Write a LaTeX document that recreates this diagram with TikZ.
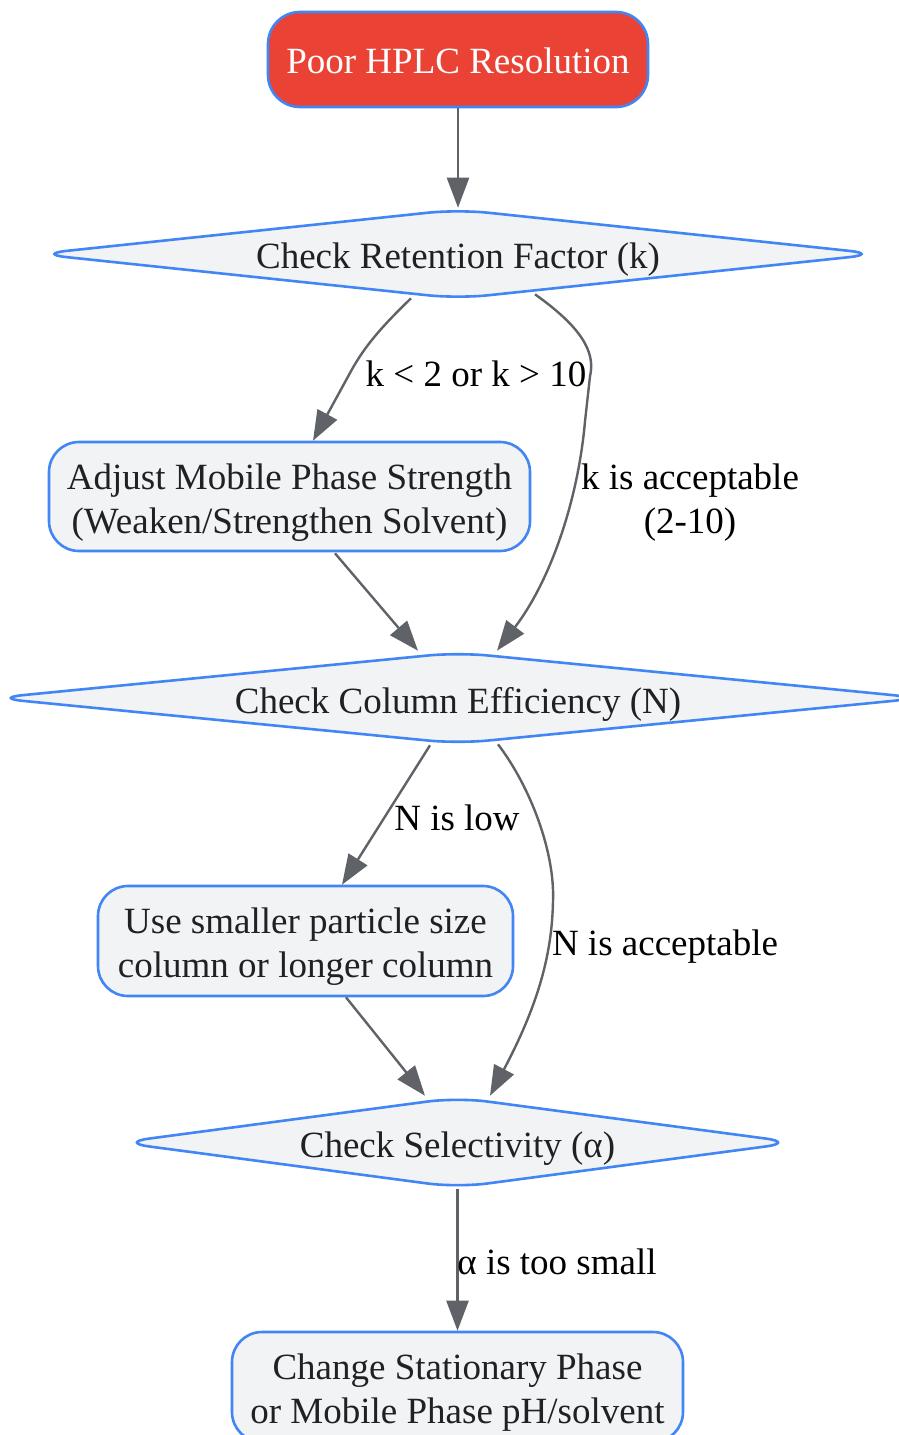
\documentclass[tikz,border=0pt]{standalone}
\usepackage{fontspec}
\setmainfont{Liberation Serif}
\usetikzlibrary{shapes.geometric,arrows.meta,calc}
\definecolor{redfill}{HTML}{EA4335}
\definecolor{blueline}{HTML}{4285F4}
\definecolor{lightfill}{HTML}{F1F3F4}
\definecolor{edgegray}{HTML}{5F6368}
\definecolor{txt}{HTML}{202124}
\newcommand{\lowr}[1]{\raisebox{-6pt}[\height][\depth]{#1}}
\newcommand{\twol}[2]{\lowr{\begin{tabular}{@{}c@{}}#1\\#2\end{tabular}}}
\begin{document}
\begin{tikzpicture}[x=1pt,y=-1pt,
  font=\fontsize{37}{44}\selectfont,
  startbox/.style={rectangle, rounded corners=32pt, draw=blueline, line width=2.6pt, fill=redfill, text=white, inner sep=0pt, align=center},
  procbox/.style={rectangle, rounded corners=30pt, draw=blueline, line width=2.6pt, fill=lightfill, text=txt, inner sep=0pt, align=center},
  decision/.style={diamond, aspect=9, rounded corners=30pt, draw=blueline, line width=2.6pt, fill=lightfill, text=txt, inner sep=0pt},
  flow/.style={draw=edgegray, line width=2.4pt, -{Triangle[length=30pt,width=22pt]}},
  elabel/.style={text=black, align=center, inner sep=0pt}]
\fill[white] (0,0) rectangle (898,1435);
\useasboundingbox (0,0) rectangle (898,1435);

\node[startbox, minimum width=380pt, minimum height=95pt] (s) at (458,59.5) {\raisebox{-1pt}[\height][\depth]{Poor HPLC Resolution}};
\node[decision, minimum width=843pt, minimum height=90pt] (d1) at (458,254) {\lowr{Check Retention Factor (k)}};
\node[procbox, minimum width=481pt, minimum height=109pt] (a1) at (289.5,496.5) {\twol{Adjust Mobile Phase Strength}{(Weaken/Strengthen Solvent)}};
\node[decision, minimum width=930pt, minimum height=92pt] (d2) at (458,698) {\lowr{Check Column Efficiency (N)}};
\node[procbox, minimum width=415pt, minimum height=110pt] (a2) at (305.5,941) {\twol{Use smaller particle size}{column or longer column}};
\node[decision, minimum width=677pt, minimum height=91pt] (d3) at (457.5,1142.5) {\lowr{Check Selectivity (α)}};
\node[procbox, minimum width=451pt, minimum height=110pt] (a3) at (457.5,1387) {\twol{Change Stationary Phase}{or Mobile Phase pH/solvent}};

% connectors
\draw[flow] (s.south) -- (d1.north);
\draw[flow] ($(d1.south)+(-47,-2)$) .. controls ($(d1.south)+(-78,28)$) and ($(d1.south)+(-93,46)$) .. ($(d1.south)+(-106,69)$) -- ($(a1.north)+(23.5,0)$);
\draw[flow] ($(d1.south)+(77,-6)$) .. controls ($(d1.south)+(122,26)$) and ($(d1.south)+(138,51)$) .. ($(d1.south)+(132,76)$) -- ($(d1.south)+(127,121)$) .. controls ($(d1.south)+(120,201)$) and ($(d1.south)+(92,281)$) .. ($(d2.north)+(39,0)$);
\draw[flow] ($(a1.south)+(45.5,1)$) -- ($(d2.north)+(-40,0)$);
\draw[flow] ($(d2.south)+(-28,0)$) -- ($(a2.north)+(36.5,0)$);
\draw[flow] ($(d2.south)+(40,-1)$) .. controls ($(d2.south)+(72,41)$) and ($(d2.south)+(97,106)$) .. ($(d2.south)+(95,156)$) .. controls ($(d2.south)+(94,206)$) and ($(d2.south)+(82,256)$) .. ($(d3.north)+(32.5,0)$);
\draw[flow] ($(a2.south)+(40.5,0)$) -- ($(d3.north)+(-32.5,0)$);
\draw[flow] (d3.south) -- (a3.north);

% edge labels
\node[elabel] (l1) at (476,374) {k < 2 or k > 10};
\node[elabel] (l2) at (690,503) {k is acceptable\\(2-10)};
\node[elabel] (l3) at (457,818) {N is low};
\node[elabel] (l4) at (665,947) {N is acceptable};
\node[elabel] (l5) at (557,1262) {α is too small};
\end{tikzpicture}
\end{document}
